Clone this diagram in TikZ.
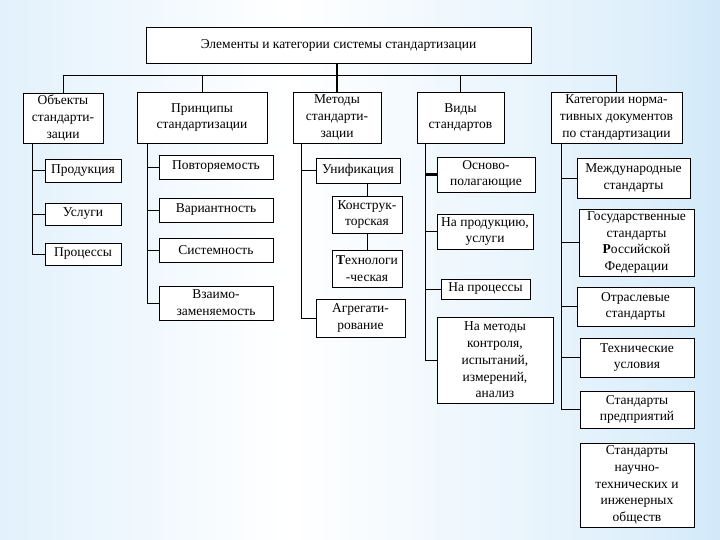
\documentclass[tikz,border=0pt]{standalone}
\usepackage{fontspec}
\setmainfont{Liberation Serif}
\definecolor{bgA}{RGB}{150,202,242}
\definecolor{bgB}{RGB}{222,239,251}
\pgfdeclarehorizontalshading{bgshade}{100bp}{color(0bp)=(bgA); color(22bp)=(bgB); color(45bp)=(white); color(70bp)=(bgB); color(100bp)=(bgA)}
\tikzset{
  bx/.style={draw=black, line width=0.8pt, fill=white, inner sep=1pt, align=center,
    font=\fontsize{13.5}{16.8}\selectfont},
  ln/.style={draw=black, line width=0.8pt},
  thk/.style={draw=black, line width=2.2pt},
}
\newcommand\bx[6]{\node[bx, minimum width={(#4-#2)*1pt}, minimum height={(#5-#3)*1pt}] (#1) at ({(#2+#4)/2},{(#3+#5)/2}) {#6};}
\begin{document}
\begin{tikzpicture}[x=1pt,y=-1pt]
\useasboundingbox (0,0) rectangle (720,540);
\shade[shading=bgshade] (0,0) rectangle (720,540);
% top
\bx{top}{146}{27}{531}{63}{Элементы и категории системы стандартизации}
% second row
\bx{obj}{23}{93}{103}{143}{Объекты\\стандарти-\\зации}
\bx{pri}{137}{92}{267}{143}{Принципы\\стандартизации}
\bx{met}{293}{92}{381}{143}{Методы\\стандарти-\\зации}
\bx{vid}{417}{92}{504}{143}{Виды\\стандартов}
\bx{kat}{551}{92}{682}{143}{Категории норма-\\тивных документов\\по стандартизации}
% objects
\bx{prod}{45}{159}{121}{182}{Продукция}
\bx{usl}{45}{203}{121}{225}{Услуги}
\bx{proc}{45}{243}{121}{265}{Процессы}
% principles
\bx{pov}{159}{155}{273}{179}{Повторяемость}
\bx{var}{159}{198}{273}{222}{Вариантность}
\bx{sys}{159}{238}{273}{262}{Системность}
\bx{vza}{159}{286}{273}{320}{Взаимо-\\заменяемость}
% methods
\bx{uni}{316}{158}{400}{183}{Унификация}
\bx{kon}{332}{196}{402}{233}{Конструк-\\торская}
\bx{tex}{332}{250}{402}{287}{\textbf{Т}ехнологи\\-ческая}
\bx{agr}{316}{299}{405}{337}{Агрегати-\\рование}
% kinds
\bx{osn}{437}{157}{535}{192}{Осново-\\полагающие}
\bx{napr}{437}{214}{533}{249}{На продукцию,\\услуги}
\bx{nproc}{441}{279}{530}{299}{На процессы}
\bx{nmet}{437}{317}{553}{403}{На методы\\контроля,\\испытаний,\\измерений,\\анализ}
% categories
\bx{mez}{577}{158}{690}{198}{Международные\\стандарты}
\bx{gos}{579}{209}{694}{276}{Государственные\\стандарты\\\textbf{Р}оссийской\\Федерации}
\bx{otr}{577}{287}{694}{326}{Отраслевые\\стандарты}
\bx{teh}{580}{338}{694}{377}{Технические\\условия}
\bx{pred}{580}{391}{694}{428}{Стандарты\\предприятий}
\bx{nauch}{580}{443}{694}{527}{Стандарты\\научно-\\технических и\\инженерных\\обществ}
% bus
\coordinate (bus) at (0,75);
\draw[ln] (obj.north) -- (obj.north |- bus) -- (kat.north |- bus) -- (kat.north);
\draw[ln] (pri.north) -- (pri.north |- bus);
\draw[ln] (vid.north) -- (vid.north |- bus);
\draw[thk] (top.south -| met.north) -- (met.north);
% trunks
\coordinate (ot) at (32,0);
\coordinate (pt) at (147,0);
\coordinate (mt) at (301,0);
\coordinate (vt) at (425,0);
\coordinate (kt) at (561,0);
\draw[ln] (obj.south -| ot) -- (proc.west -| ot) -- (proc.west);
\draw[ln] (prod.west -| ot) -- (prod.west);
\draw[ln] (usl.west -| ot) -- (usl.west);
\draw[ln] (pri.south -| pt) -- (vza.west -| pt) -- (vza.west);
\draw[ln] (pov.west -| pt) -- (pov.west);
\draw[ln] (var.west -| pt) -- (var.west);
\draw[ln] (sys.west -| pt) -- (sys.west);
\draw[ln] (met.south -| mt) -- (agr.west -| mt) -- (agr.west);
\draw[ln] (uni.west -| mt) -- (uni.west);
\draw[ln] (kon.north |- uni.south) -- (kon.north);
\draw[ln] (kon.south) -- (tex.north);
\draw[ln] (vid.south -| vt) -- (nmet.west -| vt) -- (nmet.west);
\draw[thk] (osn.west -| vt) -- (osn.west);
\draw[ln] (napr.west -| vt) -- (napr.west);
\draw[ln] (nproc.west -| vt) -- (nproc.west);
\draw[ln] (kat.south -| kt) -- (pred.west -| kt) -- (pred.west);
\draw[ln] (mez.west -| kt) -- (mez.west);
\draw[ln] (gos.west -| kt) -- (gos.west);
\draw[ln] (otr.west -| kt) -- (otr.west);
\draw[ln] (teh.west -| kt) -- (teh.west);
\end{tikzpicture}
\end{document}
